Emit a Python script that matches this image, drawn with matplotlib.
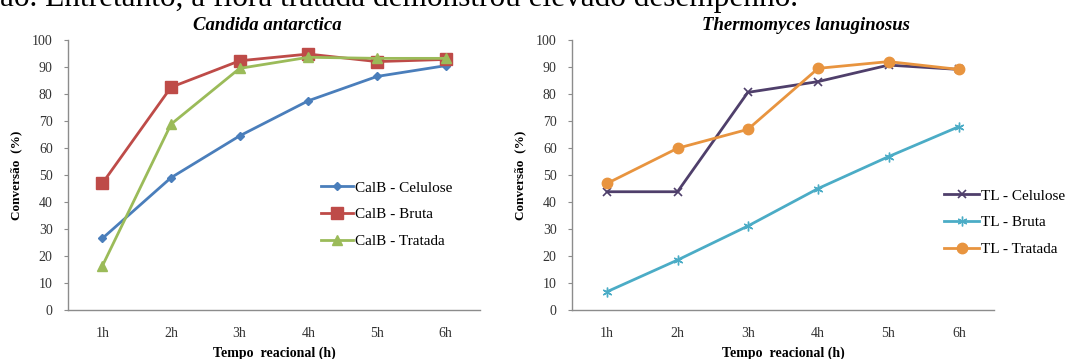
import matplotlib
matplotlib.use("Agg")
import matplotlib.pyplot as plt

# data
horas = ["1h", "2h", "3h", "4h", "5h", "6h"]

calb_celulose = [26.5, 49.0, 64.5, 77.5, 86.5, 90.5]
calb_bruta = [46.9, 82.5, 92.3, 94.8, 92.0, 92.8]
calb_tratada = [16.3, 68.8, 89.5, 93.6, 93.2, 93.2]

tl_celulose = [43.8, 43.8, 80.6, 84.6, 90.7, 89.1]
tl_bruta = [6.8, 18.5, 31.1, 45.0, 56.8, 67.9]
tl_tratada = [46.9, 59.9, 66.9, 89.5, 92.0, 89.1]

serif = ["Liberation Serif", "DejaVu Serif"]
plt.rcParams["font.family"] = serif

W, H = 1072, 359
fig = plt.figure(figsize=(W / 100, H / 100), dpi=100)


def px_axes(x0, x1, y0, y1):
    return fig.add_axes([x0 / W, 1 - y1 / H, (x1 - x0) / W, (y1 - y0) / H])


def style_axes(ax):
    x = range(1, len(horas) + 1)
    ax.set_xlim(0.5, len(horas) + 0.5)
    ax.set_ylim(0, 100)
    ax.set_yticks(range(0, 101, 10))
    ax.set_xticks(list(x))
    ax.set_xticklabels(horas)
    for s in ["top", "right"]:
        ax.spines[s].set_visible(False)
    for s in ["left", "bottom"]:
        ax.spines[s].set_color("#8c8c8c")
        ax.spines[s].set_linewidth(1.0)
    ax.tick_params(axis="y", direction="out", length=3, width=0.8, color="#8c8c8c",
                   labelsize=10, labelcolor="#333333", pad=8)
    ax.tick_params(axis="x", length=0, labelsize=10, labelcolor="#333333", pad=12)
    ax.set_ylabel("Conversão  (%)", fontsize=9.5, fontweight="bold", labelpad=7)
    ax.set_xlabel("Tempo  reacional (h)", fontsize=10, fontweight="bold", labelpad=5)
    return list(x)


leg_kw = dict(bbox_transform=fig.transFigure, loc="upper left", frameon=False, fontsize=11,
              handletextpad=0.1, labelspacing=0.85, borderpad=0, borderaxespad=0)

# Candida antarctica
ax1 = px_axes(68, 480, 40, 310)
x = style_axes(ax1)
ax1.plot(x, calb_celulose, color="#4a7ebb", lw=2, marker="D", ms=4, label="CalB - Celulose")
ax1.plot(x, calb_bruta, color="#be4b48", lw=2, marker="s", ms=8, label="CalB - Bruta")
ax1.plot(x, calb_tratada, color="#9bbb59", lw=2, marker="^", ms=6.5, label="CalB - Tratada")
ax1.legend(bbox_to_anchor=(321 / W, 1 - 181 / H), handlelength=2.1, **leg_kw)

# Thermomyces lanuginosus
ax2 = px_axes(572, 994, 40, 310)
x = style_axes(ax2)
ax2.plot(x, tl_celulose, color="#4f3f6b", lw=2, marker="x", ms=6, mew=1.2, label="TL - Celulose")
ax2.plot(x, tl_bruta, color="#4bacc6", lw=2, marker=(6, 2, 0), ms=7, mew=1.0, label="TL - Bruta")
ax2.plot(x, tl_tratada, color="#e8943f", lw=2, marker="o", ms=7.5, label="TL - Tratada")
ax2.legend(bbox_to_anchor=(944 / W, 1 - 189 / H), handlelength=2.3, **leg_kw)

fig.text(267 / W, 1 - 26 / H, "Candida antarctica", ha="center", va="center",
         fontsize=13.5, fontweight="bold", fontstyle="italic")
fig.text(806 / W, 1 - 26 / H, "Thermomyces lanuginosus", ha="center", va="center",
         fontsize=13.5, fontweight="bold", fontstyle="italic")

# line of the surrounding text, cut by the top edge
fig.text(0, 1 - 6 / H, "ão. Entretanto, a flora tratada demonstrou elevado desempenho.",
         ha="left", va="baseline", fontsize=22.5)

fig.savefig("out.png", dpi=100, facecolor="white")
